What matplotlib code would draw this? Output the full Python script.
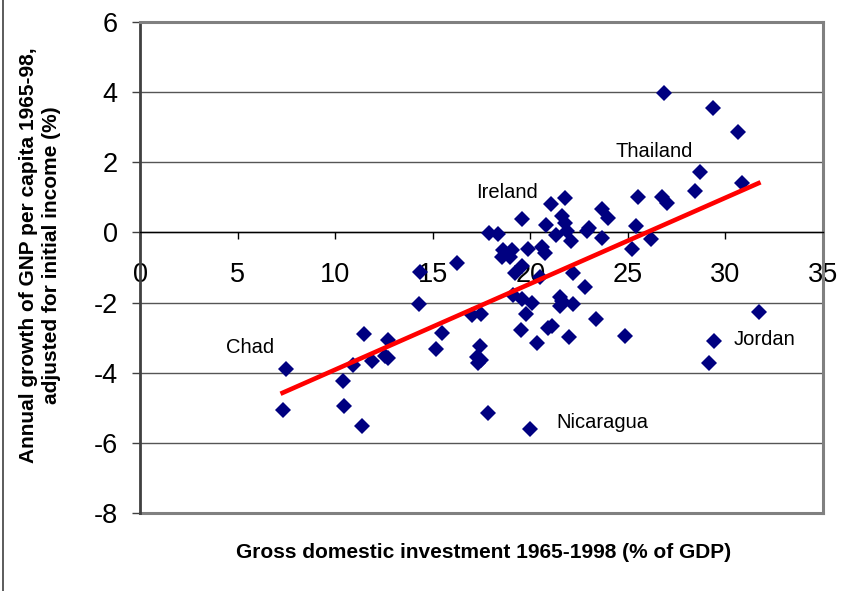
import matplotlib.pyplot as plt
from matplotlib.lines import Line2D

# investment share (% of GDP) and growth per capita (%)
investment = [7.5, 7.35, 10.4, 10.45, 11.4, 10.9, 11.5, 11.9, 12.7, 12.55,
              12.7, 14.3, 14.35, 15.17, 15.5, 16.25, 17.0, 17.5, 17.4, 17.26,
              17.5, 17.3, 17.84, 19.99, 17.9, 18.35, 18.6, 19.07, 18.55, 18.96,
              19.9, 20.6, 20.75, 19.57, 21.07, 21.8, 21.6, 20.8, 21.8, 21.9,
              21.3, 22.1, 23.0, 22.9, 23.7, 24.0, 23.7, 25.2, 25.4, 25.5,
              26.2, 26.75, 27.0, 28.45, 28.7, 30.85, 26.86, 29.37, 30.65, 19.2,
              19.6, 20.5, 22.2, 22.8, 19.1, 19.6, 20.1, 21.5, 21.6, 22.2,
              19.8, 19.5, 20.35, 20.9, 21.1, 22.0, 23.37, 24.86, 31.7, 29.4,
              29.15, 21.5]
growth = [-3.9, -5.06, -4.24, -4.95, -5.52, -3.78, -2.9, -3.66, -3.07, -3.52,
          -3.58, -2.04, -1.13, -3.33, -2.86, -0.86, -2.35, -2.33, -3.24, -3.55,
          -3.64, -3.73, -5.16, -5.61, -0.02, -0.05, -0.5, -0.5, -0.7, -0.7,
          -0.47, -0.42, -0.59, 0.38, 0.81, 0.98, 0.47, 0.21, 0.26, 0.05,
          -0.08, -0.25, 0.12, 0.05, 0.66, 0.41, -0.16, -0.47, 0.18, 1.0,
          -0.19, 1.0, 0.84, 1.18, 1.72, 1.40, 3.97, 3.55, 2.86, -1.15,
          -0.95, -1.27, -1.16, -1.57, -1.77, -1.9, -2.0, -1.83, -1.95, -2.03,
          -2.33, -2.78, -3.16, -2.73, -2.67, -2.98, -2.47, -2.95, -2.28, -3.09,
          -3.72, -2.1]

# fitted trend line end points
trend_x = [7.2, 31.8]
trend_y = [-4.6, 1.43]

# country labels
countries = ['Chad', 'Ireland', 'Thailand', 'Jordan', 'Nicaragua']
label_x = [5.64, 18.8, 26.35, 32.0, 23.7]
label_y = [-3.27, 1.13, 2.32, -3.04, -5.43]

x_ticks = [0, 5, 10, 15, 20, 25, 30, 35]
y_ticks = [-8, -6, -4, -2, 0, 2, 4, 6]

plt.rcParams['font.family'] = ['Liberation Sans', 'DejaVu Sans']

fig = plt.figure(figsize=(8.64, 5.91), dpi=100)
ax = fig.add_axes([140 / 864, 1 - 513 / 591, 683 / 864, 491 / 591])

ax.set_xlim(0, 35)
ax.set_ylim(-8, 6)

# horizontal gridlines
for y in y_ticks:
    ax.axhline(y, color='#555555', lw=1.0, zorder=1)

ax.plot(investment, growth, 'D', color='#000080', ms=7.8, mew=0, zorder=3)
ax.plot(trend_x, trend_y, color='#ff0000', lw=3.3, solid_capstyle='butt', zorder=4)

for name, tx, ty in zip(countries, label_x, label_y):
    ax.text(tx, ty, name, ha='center', va='center', fontsize=14.5, zorder=5)

# axes: x axis sits on y=0, plot area framed in grey
ax.spines['bottom'].set_position(('data', 0))
ax.spines['bottom'].set_color('black')
ax.spines['bottom'].set_linewidth(1.0)
ax.spines['left'].set_color('#404040')
ax.spines['left'].set_linewidth(2.0)
for side in ['top', 'right']:
    ax.spines[side].set_color('#808080')
    ax.spines[side].set_linewidth(2.2)
ax.axhline(-8, color='#808080', lw=2.2, zorder=2, clip_on=False)

ax.set_xticks(x_ticks)
ax.set_yticks(y_ticks)
ax.set_xticklabels([str(v) for v in x_ticks])
ax.set_yticklabels([str(v) for v in y_ticks])
ax.tick_params(axis='x', direction='out', length=5, width=1, color='black',
               labelsize=19.5, pad=16)
ax.tick_params(axis='y', direction='out', length=6, width=1, color='#404040',
               labelsize=19.5, pad=10)

fig.text(484 / 864, 1 - 553 / 591, 'Gross domestic investment 1965-1998 (% of GDP)',
         ha='center', va='center', fontsize=15, fontweight='bold')
fig.text(40 / 864, 1 - 255 / 591,
         'Annual growth of GNP per capita 1965-98,\nadjusted for initial income (%)',
         ha='center', va='center', rotation=90, fontsize=15, fontweight='bold',
         linespacing=1.3)

# border line down the left edge of the picture
fig.add_artist(Line2D([2.5 / 864, 2.5 / 864], [0, 1], color='#404040', lw=1.2,
                      transform=fig.transFigure))

fig.savefig('out.png', dpi=100)
